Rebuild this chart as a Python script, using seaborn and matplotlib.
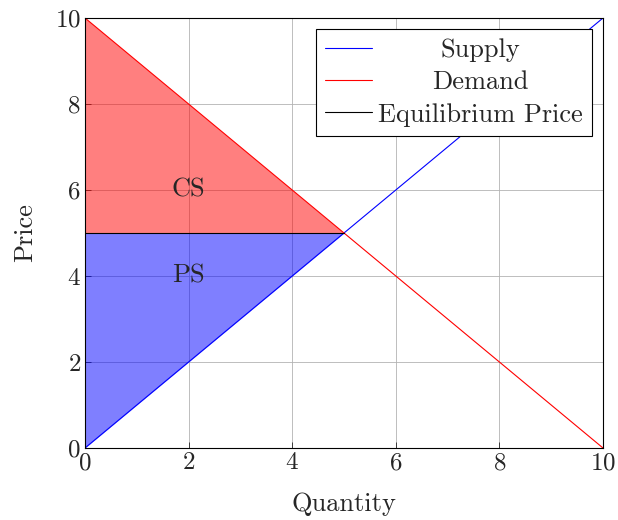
import numpy as np
import pandas as pd
import matplotlib
matplotlib.use("Agg")
import matplotlib.pyplot as plt
import seaborn as sns

# Datos
quantity = [0, 10]
supply_price = [0, 10]
demand_price = [10, 0]
eq_quantity = [0, 5]
eq_price = [5, 5]
surplus_q = [0, 5]
cs_top = [10, 5]
ps_bottom = [0, 5]

sns.set_theme(style="ticks")
plt.rcParams['font.family'] = ['cmr10', 'DejaVu Serif']
plt.rcParams['mathtext.fontset'] = 'cm'
plt.rcParams['axes.formatter.use_mathtext'] = True

FS = 19

fig = plt.figure(figsize=(6.18, 5.2), dpi=100)
ax = fig.add_axes([85 / 618, 1 - 448 / 520, 518 / 618, 430 / 520])

df = pd.DataFrame({"Quantity": quantity, "Supply": supply_price, "Demand": demand_price})

# Excedentes
ax.fill_between(surplus_q, eq_price, cs_top, color="red", alpha=0.5, linewidth=0)
ax.fill_between(surplus_q, ps_bottom, eq_price, color="blue", alpha=0.5, linewidth=0)

sns.lineplot(x="Quantity", y="Supply", data=df, color="blue", lw=0.8, label="Supply", ax=ax)
sns.lineplot(x="Quantity", y="Demand", data=df, color="red", lw=0.8, label="Demand", ax=ax)
sns.lineplot(x=eq_quantity, y=eq_price, color="black", lw=0.8, label="Equilibrium Price", ax=ax)

ax.text(2, 6, "CS", ha="center", va="center", fontsize=FS)
ax.text(2, 4, "PS", ha="center", va="center", fontsize=FS)

ax.set_xlim(0, 10)
ax.set_ylim(0, 10)
ax.set_xticks(range(0, 11, 2))
ax.set_yticks(range(0, 11, 2))
ax.grid(True, color="#b3b3b3", lw=0.6)
ax.tick_params(labelsize=18, direction="in", length=4, width=0.6, pad=3)
for s in ax.spines.values():
    s.set_linewidth(0.8)
    s.set_color("black")
ax.set_xlabel("Quantity", fontsize=FS, labelpad=13)
ax.set_ylabel("Price", fontsize=FS, labelpad=13)

leg = ax.legend(loc="upper right", fontsize=FS, frameon=True, fancybox=False,
                edgecolor="black", framealpha=1, handlelength=1.75, borderaxespad=0.4,
                labelspacing=0.33, handletextpad=0.25, borderpad=0.36)
leg.get_frame().set_linewidth(0.8)

# Centrar los textos de la leyenda (como pgfplots)
fig.canvas.draw()
renderer = fig.canvas.get_renderer()
widths = [t.get_window_extent(renderer).width * 72 / fig.dpi for t in leg.get_texts()]
wmax = max(widths)
for col in leg._legend_handle_box.get_children():
    for item, w in zip(col.get_children(), widths):
        item.sep = item.sep + (wmax - w) / 2

plt.savefig("out.png", dpi=100)
